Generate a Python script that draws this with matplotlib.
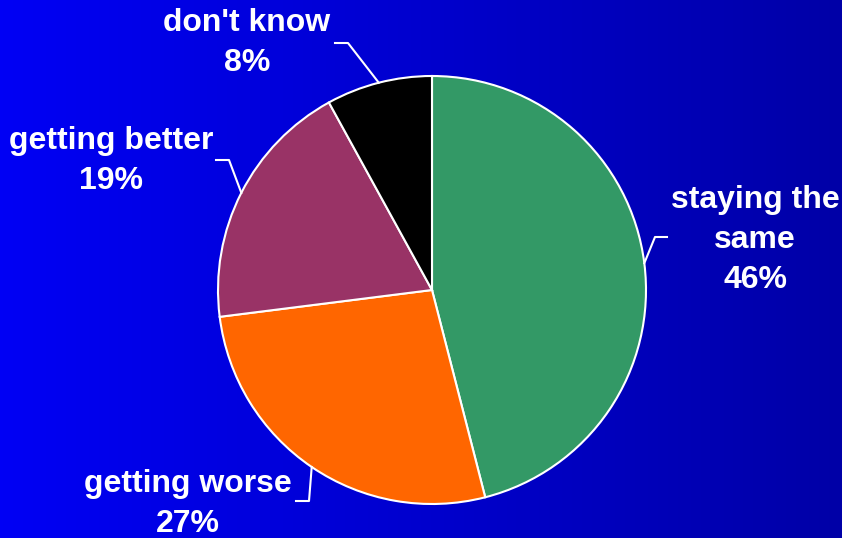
import numpy as np
import matplotlib.pyplot as plt

labels = ["staying the\nsame", "getting worse", "getting better", "don't know"]
shares = [46, 27, 19, 8]
colors = ['#339966', '#FF6600', '#993366', '#000000']

W, H = 842, 538
cx, cy, r = 432, 538 - 290, 214

# label block centres and leader elbows, in pixel coords (y up)
label_xy = [(755, 538 - 240), (188, 538 - 504), (111, 538 - 161), (247, 538 - 43)]
elbow_a = [(667, 538 - 237), (296, 538 - 501), (216, 538 - 160), (335, 538 - 43)]
elbow_b = [(655, 538 - 237), (309, 538 - 501), (229, 538 - 160), (348, 538 - 43)]

fig = plt.figure(figsize=(W / 100, H / 100), dpi=100)
ax = fig.add_axes([0, 0, 1, 1])
ax.set_xlim(0, W)
ax.set_ylim(0, H)
ax.axis('off')

# horizontal blue gradient
grad = np.linspace(0, 1, 256)
blue = np.zeros((2, 256, 3))
blue[:, :, 2] = (245 - 78 * grad) / 255
ax.imshow(blue, extent=[0, W, 0, H], aspect='auto', zorder=0)

wedges, _ = ax.pie(shares, colors=colors, startangle=90, counterclock=False,
                   center=(cx, cy), radius=r, frame=True,
                   wedgeprops=dict(edgecolor='white', linewidth=1.5))
for w in wedges:
    w.set_zorder(2)
ax.set_xlim(0, W)
ax.set_ylim(0, H)
ax.set_aspect('auto')

for w, lab, s, (tx, ty), a, b in zip(wedges, labels, shares, label_xy, elbow_a, elbow_b):
    mid = np.deg2rad((w.theta1 + w.theta2) / 2)
    ex, ey = cx + r * np.cos(mid), cy + r * np.sin(mid)
    ax.plot([a[0], b[0], ex], [a[1], b[1], ey], color='white', lw=1.5, zorder=3)
    ax.text(tx, ty, f"{lab}\n{s}%", ha='center', va='center', color='white',
            fontsize=23, fontweight='bold', family='Liberation Sans',
            linespacing=1.45, zorder=4)

fig.savefig('out.png', dpi=100)
